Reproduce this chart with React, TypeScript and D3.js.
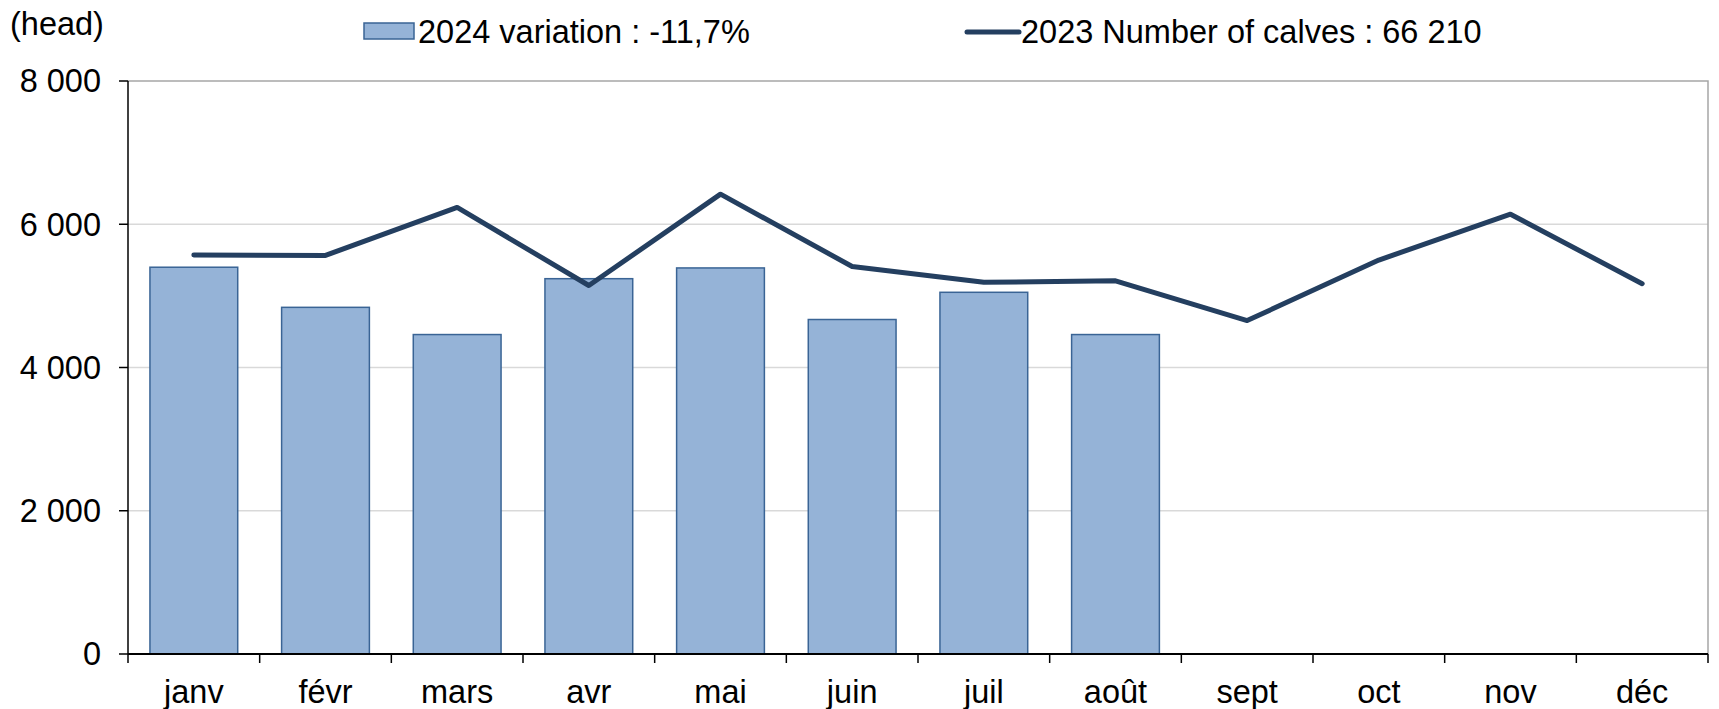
import React, { useRef, useEffect } from 'react';
import * as d3 from 'd3';

// Data
const months = ['janv', 'févr', 'mars', 'avr', 'mai', 'juin', 'juil', 'août', 'sept', 'oct', 'nov', 'déc'];
const calves2024 = [5400, 4840, 4460, 5240, 5390, 4670, 5050, 4460];
const calves2023 = [5570, 5565, 6235, 5145, 6420, 5410, 5190, 5210, 4655, 5500, 6140, 5170];
const yTicks = [0, 2000, 4000, 6000, 8000];
const barLabel = '2024 variation : -11,7%';
const lineLabel = '2023 Number of calves : 66 210';
const unitLabel = '(head)';

const App = () => {
  const svgRef = useRef<SVGSVGElement>(null);

  useEffect(() => {
    const width = 1719;
    const height = 709;
    const margin = { top: 81, right: 11, bottom: 55, left: 128 };
    const innerW = width - margin.left - margin.right;
    const innerH = height - margin.top - margin.bottom;
    const font = '"Liberation Sans", Arial, sans-serif';
    const fontSize = 32.5;

    const svg = d3.select(svgRef.current)
      .attr('width', width)
      .attr('height', height);
    svg.selectAll('*').remove();

    const g = svg.append('g')
      .attr('transform', `translate(${margin.left},${margin.top})`);

    // Scales
    const x = d3.scaleBand<string>()
      .domain(months)
      .range([0, innerW])
      .paddingInner(1 / 3)
      .paddingOuter(1 / 6);
    const step = x.step();
    const y = d3.scaleLinear()
      .domain([0, 8000])
      .range([innerH, 0]);

    // Gridlines
    g.selectAll('.grid')
      .data(yTicks.filter(d => d > 0 && d < 8000))
      .enter().append('line')
      .attr('x1', 0)
      .attr('x2', innerW)
      .attr('y1', d => y(d))
      .attr('y2', d => y(d))
      .attr('stroke', '#d9d9d9')
      .attr('stroke-width', 1.5);

    // Plot area border (top and right)
    g.append('path')
      .attr('d', `M0,${y(8000)}H${innerW}V${innerH}`)
      .attr('fill', 'none')
      .attr('stroke', '#a6a6a6')
      .attr('stroke-width', 1.5);

    // Bars
    g.selectAll('.bar')
      .data(calves2024)
      .enter().append('rect')
      .attr('x', (d, i) => x(months[i])!)
      .attr('y', d => y(d))
      .attr('width', x.bandwidth())
      .attr('height', d => innerH - y(d))
      .attr('fill', '#95b3d7')
      .attr('stroke', '#3a6495')
      .attr('stroke-width', 1.5);

    // Line
    const line = d3.line<number>()
      .x((d, i) => x(months[i])! + x.bandwidth() / 2)
      .y(d => y(d));
    g.append('path')
      .datum(calves2023)
      .attr('d', line)
      .attr('fill', 'none')
      .attr('stroke', '#243f60')
      .attr('stroke-width', 5)
      .attr('stroke-linecap', 'round')
      .attr('stroke-linejoin', 'round');

    // Y axis
    const yAxis = g.append('g');
    yAxis.append('line')
      .attr('x1', 0).attr('x2', 0)
      .attr('y1', 0).attr('y2', innerH)
      .attr('stroke', '#000').attr('stroke-width', 1.5);
    yAxis.selectAll('.ytick')
      .data(yTicks)
      .enter().append('line')
      .attr('x1', -9).attr('x2', 0)
      .attr('y1', d => y(d)).attr('y2', d => y(d))
      .attr('stroke', '#000').attr('stroke-width', 1.5);
    yAxis.selectAll('.ylabel')
      .data(yTicks)
      .enter().append('text')
      .attr('x', -27)
      .attr('y', d => y(d))
      .attr('dy', '0.35em')
      .attr('text-anchor', 'end')
      .attr('font-family', font)
      .attr('font-size', fontSize)
      .text(d => d3.format(',')(d).replace(/,/g, ' '));

    // X axis
    const xAxis = g.append('g').attr('transform', `translate(0,${innerH})`);
    xAxis.append('line')
      .attr('x1', 0).attr('x2', innerW)
      .attr('stroke', '#000').attr('stroke-width', 2);
    xAxis.selectAll('.xtick')
      .data(d3.range(months.length + 1))
      .enter().append('line')
      .attr('x1', d => d * step).attr('x2', d => d * step)
      .attr('y1', 0).attr('y2', 9)
      .attr('stroke', '#000').attr('stroke-width', 1.5);
    xAxis.selectAll('.xlabel')
      .data(months)
      .enter().append('text')
      .attr('x', d => x(d)! + x.bandwidth() / 2)
      .attr('y', 49)
      .attr('text-anchor', 'middle')
      .attr('font-family', font)
      .attr('font-size', fontSize)
      .text(d => d);

    // Unit label
    svg.append('text')
      .attr('x', 10)
      .attr('y', 35)
      .attr('font-family', font)
      .attr('font-size', fontSize)
      .text(unitLabel);

    // Legend
    const legend = svg.append('g');
    legend.append('rect')
      .attr('x', 364).attr('y', 23)
      .attr('width', 50).attr('height', 16)
      .attr('fill', '#95b3d7')
      .attr('stroke', '#3a6495')
      .attr('stroke-width', 1.5);
    legend.append('text')
      .attr('x', 418).attr('y', 43)
      .attr('font-family', font)
      .attr('font-size', fontSize)
      .text(barLabel);
    legend.append('line')
      .attr('x1', 967).attr('x2', 1019)
      .attr('y1', 32).attr('y2', 32)
      .attr('stroke', '#243f60')
      .attr('stroke-width', 5)
      .attr('stroke-linecap', 'round');
    legend.append('text')
      .attr('x', 1021).attr('y', 43)
      .attr('font-family', font)
      .attr('font-size', fontSize)
      .text(lineLabel);
  }, []);

  return (
    <svg ref={svgRef} style={{ position: 'absolute', left: 0, top: 0 }}></svg>
  );
};

export default App;
